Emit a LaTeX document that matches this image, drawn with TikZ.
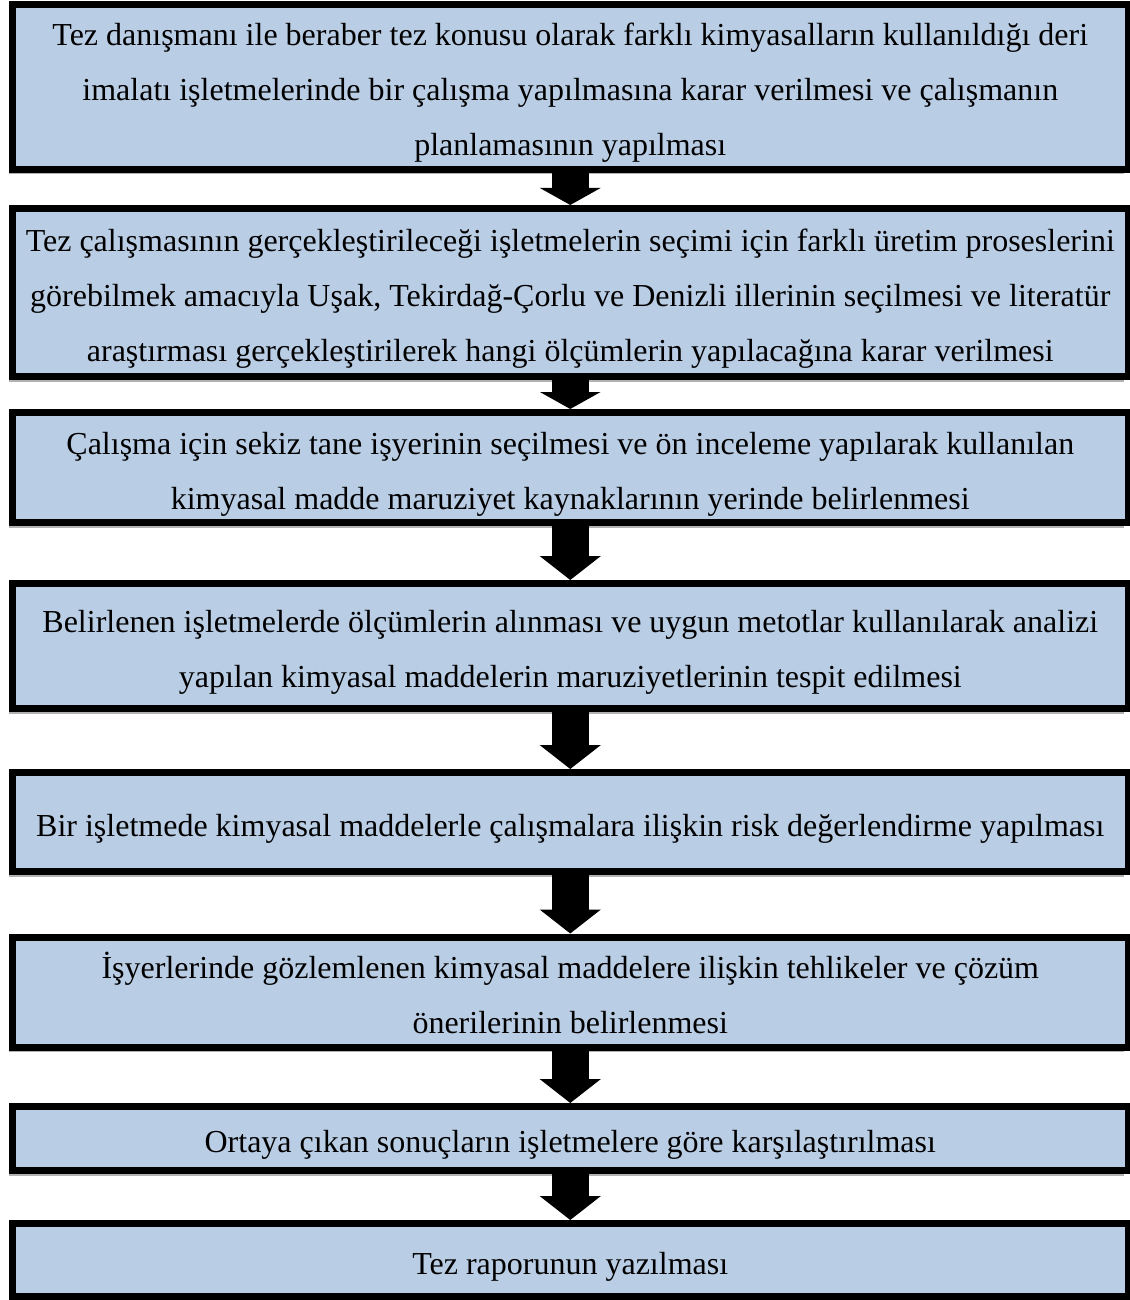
\documentclass[tikz,border=0pt]{standalone}
\usepackage{fontspec}
\setmainfont{Liberation Serif}
\usetikzlibrary{arrows.meta,shadows}
\definecolor{boxblue}{HTML}{B9CDE5}
\newcommand\boxtext[1]{\raisebox{-3pt}[\height][\depth]{\begin{tabular}{@{}c@{}}#1\end{tabular}}}
\tikzset{
  stepbox/.style={draw=black, line width=7pt, fill=boxblue, inner sep=0pt,
    minimum width=1115.5pt, font=\fontsize{32}{55}\selectfont,
    drop shadow={shadow xshift=-4pt, shadow yshift=-5pt, fill=black, opacity=0.3}},
  flowarrow/.style={line width=37pt, draw=black, -{Triangle[length=24pt,width=60pt]}},
  shortarrow/.style={line width=37pt, draw=black, -{Triangle[length=17pt,width=60pt]}}
}
\begin{document}
\begin{tikzpicture}[x=1pt,y=-1pt]
\useasboundingbox (0,0) rectangle (1129,1300);
\node[stepbox, minimum height=165pt] (b1) at (570.25,87) {\boxtext{Tez danışmanı ile beraber tez konusu olarak farklı kimyasalların kullanıldığı deri\\imalatı işletmelerinde bir çalışma yapılmasına karar verilmesi ve çalışmanın\\planlamasının yapılması}};
\node[stepbox, minimum height=168pt] (b2) at (570.25,292.5) {\boxtext{Tez çalışmasının gerçekleştirileceği işletmelerin seçimi için farklı üretim proseslerini\\görebilmek amacıyla Uşak, Tekirdağ-Çorlu ve Denizli illerinin seçilmesi ve literatür\\araştırması gerçekleştirilerek hangi ölçümlerin yapılacağına karar verilmesi}};
\node[stepbox, minimum height=108pt] (b3) at (570.25,467.5) {\boxtext{Çalışma için sekiz tane işyerinin seçilmesi ve ön inceleme yapılarak kullanılan\\kimyasal madde maruziyet kaynaklarının yerinde belirlenmesi}};
\node[stepbox, minimum height=125pt] (b4) at (570.25,646) {\boxtext{Belirlenen işletmelerde ölçümlerin alınması ve uygun metotlar kullanılarak analizi\\yapılan kimyasal maddelerin maruziyetlerinin tespit edilmesi}};
\node[stepbox, minimum height=99pt] (b5) at (570.25,822) {\boxtext{Bir işletmede kimyasal maddelerle çalışmalara ilişkin risk değerlendirme yapılması}};
\node[stepbox, minimum height=105pt] (b6) at (570.25,992) {\boxtext{İşyerlerinde gözlemlenen kimyasal maddelere ilişkin tehlikeler ve çözüm\\önerilerinin belirlenmesi}};
\node[stepbox, minimum height=64pt] (b7) at (570.25,1138.5) {\boxtext{Ortaya çıkan sonuçların işletmelere göre karşılaştırılması}};
\node[stepbox, minimum height=73pt] (b8) at (570.25,1260) {\boxtext{Tez raporunun yazılması}};
\draw[shortarrow] (b1.south) -- (b2.north);
\draw[shortarrow] (b2.south) -- (b3.north);
\draw[flowarrow] (b3.south) -- (b4.north);
\draw[flowarrow] (b4.south) -- (b5.north);
\draw[flowarrow] (b5.south) -- (b6.north);
\draw[flowarrow] (b6.south) -- (b7.north);
\draw[flowarrow] (b7.south) -- (b8.north);
\end{tikzpicture}
\end{document}
